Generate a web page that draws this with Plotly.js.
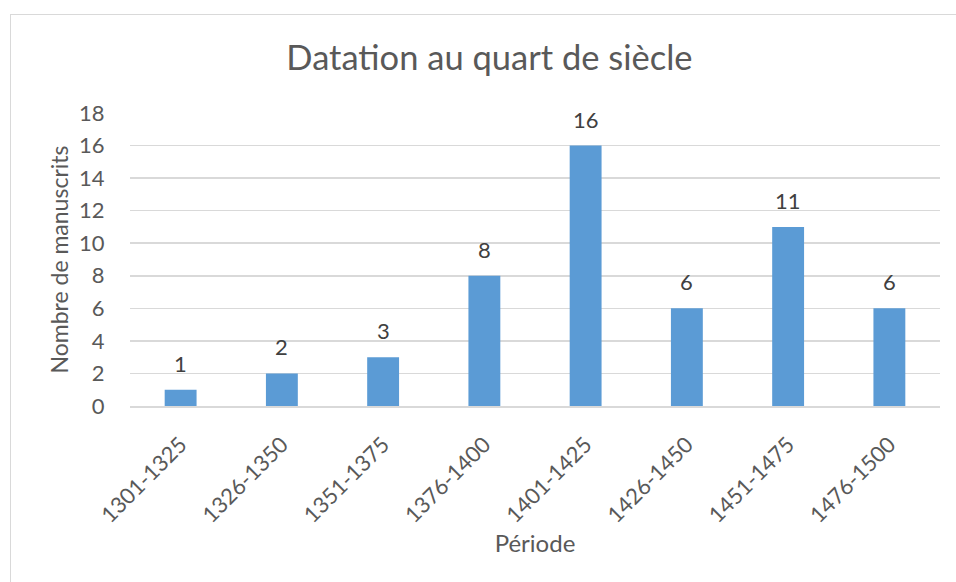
<!DOCTYPE html>
<html>
<head>
<meta charset="utf-8">
<script src="https://cdn.plot.ly/plotly-3.0.1.min.js"></script>
<style>
  html, body { margin: 0; padding: 0; background: #ffffff; }
  #wrap { position: relative; width: 956px; height: 582px; overflow: hidden; }
  #frame { position: absolute; left: 10px; top: 14px; width: 960px; height: 600px;
           border-top: 1px solid #d9d9d9; border-left: 1px solid #d9d9d9; }
  #chart { position: absolute; left: 0; top: 0; width: 956px; height: 582px; }
</style>
</head>
<body>
<div id="wrap">
  <div id="frame"></div>
  <div id="chart"></div>
</div>
<script>
const periods = ["1301-1325", "1326-1350", "1351-1375", "1376-1400", "1401-1425", "1426-1450", "1451-1475", "1476-1500"];
const manuscripts = [1, 2, 3, 8, 16, 6, 11, 6];
const yTicks = [0, 2, 4, 6, 8, 10, 12, 14, 16, 18];

const FONT = "Lato, 'Open Sans', sans-serif";
const trace = {
  type: "bar",
  x: periods,
  y: manuscripts,
  marker: { color: "#5b9bd5" },
  hoverinfo: "skip"
};

const labels = periods.map((p, i) => ({
  x: p, y: manuscripts[i], xref: "x", yref: "y",
  text: String(manuscripts[i]),
  showarrow: false, yanchor: "bottom", yshift: 11,
  font: { family: FONT, size: 22, color: "#404040" }
}));

const layout = {
  width: 956,
  height: 582,
  margin: { l: 130, r: 16, t: 113, b: 176 },
  paper_bgcolor: "rgba(0,0,0,0)",
  plot_bgcolor: "rgba(0,0,0,0)",
  bargap: 0.685,
  showlegend: false,
  font: { family: FONT, color: "#595959" },
  annotations: labels,
  title: {
    text: "Datation au quart de siècle",
    font: { family: FONT, size: 34.5, color: "#595959" },
    x: 0.512, xref: "container", xanchor: "center",
    y: 0.9, yref: "container", yanchor: "middle"
  },
  xaxis: {
    type: "category",
    tickangle: -45,
    ticks: "outside", ticklen: 15, tickcolor: "rgba(0,0,0,0)",
    tickfont: { family: FONT, size: 22, color: "#595959" },
    showline: true, linecolor: "#d9d9d9", linewidth: 2,
    showgrid: false,
    title: { text: "Période", font: { family: FONT, size: 24, color: "#595959" }, standoff: 9 }
  },
  yaxis: {
    range: [0, 18],
    tickvals: yTicks,
    ticktext: yTicks.map(String),
    ticks: "outside", ticklen: 20, tickcolor: "rgba(0,0,0,0)",
    tickfont: { family: FONT, size: 22, color: "#595959" },
    showgrid: true, gridcolor: "#d9d9d9", gridwidth: 1.5,
    zeroline: false,
    title: { text: "Nombre de manuscrits", font: { family: FONT, size: 23, color: "#595959" }, standoff: 4 }
  }
};

Plotly.newPlot("chart", [trace], layout, { staticPlot: true, displayModeBar: false });
</script>
</body>
</html>
